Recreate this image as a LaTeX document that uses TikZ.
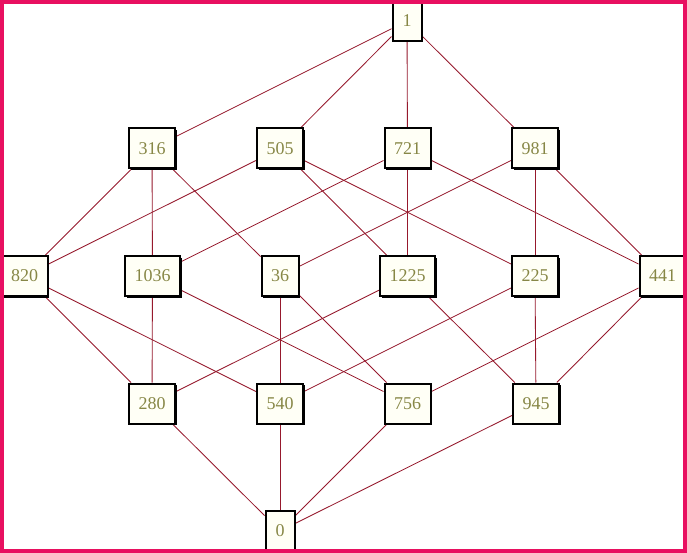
\documentclass[tikz,border=0pt]{standalone}
\usepackage{fontspec}
\setmainfont{Liberation Serif}
\usetikzlibrary{shadows}
\definecolor{edgecol}{RGB}{150,25,45}
\definecolor{framecol}{RGB}{232,16,96}
\definecolor{boxfill}{RGB}{255,255,246}
\definecolor{txtcol}{RGB}{135,135,70}
\pgfdeclarelayer{bg}
\pgfsetlayers{bg,main}
\begin{document}
\begin{tikzpicture}[x=1pt,y=-1pt,
  nd/.style={draw=black, line width=2pt, fill=boxfill, text=txtcol,
    font=\fontsize{18}{18}\selectfont, minimum height=40pt, inner xsep=9.5pt,
    inner ysep=0pt, minimum width=29pt,
    drop shadow={shadow xshift=1.5pt, shadow yshift=-1.5pt, fill=black, opacity=1}},
  ed/.style={draw=edgecol, line width=0.85pt}]
\useasboundingbox (0,0) rectangle (687,553);
% nodes
\node[nd] (n1) at (407,21) {1};
\node[nd] (a316) at (152,148.5) {316};
\node[nd] (a505) at (280,148.5) {505};
\node[nd] (a721) at (407.5,148.5) {721};
\node[nd] (a981) at (535,148.5) {981};
\node[nd] (b820) at (24.5,276) {820};
\node[nd] (b1036) at (152.5,276) {1036};
\node[nd] (b36) at (280,276) {36};
\node[nd] (b1225) at (407.5,276) {1225};
\node[nd] (b225) at (535,276) {225};
\node[nd] (b441) at (662.5,276) {441};
\node[nd] (c280) at (152,403.5) {280};
\node[nd] (c540) at (280,403.5) {540};
\node[nd] (c756) at (407.5,403.5) {756};
\node[nd] (c945) at (536,403.5) {945};
\node[nd] (n0) at (280,531) {0};
% edges
\begin{pgfonlayer}{bg}
\fill[white] (0,0) rectangle (687,553);
\foreach \t in {a316,a505,a721,a981} \draw[ed] (n1) -- (\t);
\foreach \t in {b820,b1036,b36} \draw[ed] (a316) -- (\t);
\foreach \t in {b820,b1225,b225} \draw[ed] (a505) -- (\t);
\foreach \t in {b1036,b1225,b441} \draw[ed] (a721) -- (\t);
\foreach \t in {b36,b225,b441} \draw[ed] (a981) -- (\t);
\foreach \t in {c280,c540} \draw[ed] (b820) -- (\t);
\foreach \t in {c280,c756} \draw[ed] (b1036) -- (\t);
\foreach \t in {c540,c756} \draw[ed] (b36) -- (\t);
\foreach \t in {c280,c945} \draw[ed] (b1225) -- (\t);
\foreach \t in {c540,c945} \draw[ed] (b225) -- (\t);
\foreach \t in {c756,c945} \draw[ed] (b441) -- (\t);
\foreach \t in {c280,c540,c756,c945} \draw[ed] (\t) -- (n0);
\end{pgfonlayer}
% frame
\draw[framecol, line width=4pt] (2,2) rectangle (685,551);
\end{tikzpicture}
\end{document}
